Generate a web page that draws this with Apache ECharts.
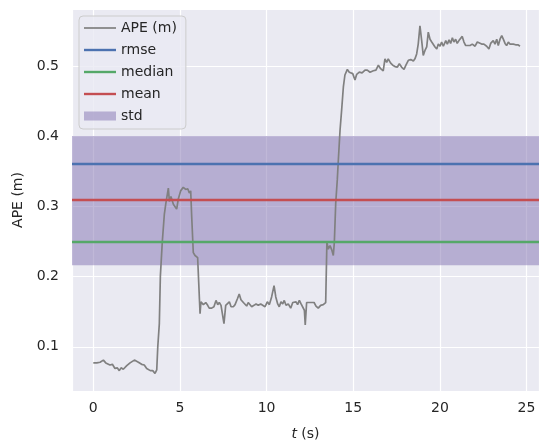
<!DOCTYPE html>
<html>
<head>
<meta charset="utf-8">
<script src="https://cdn.jsdelivr.net/npm/echarts@6/dist/echarts.min.js"></script>
<style>
  html, body { margin: 0; padding: 0; background: #fff; }
  #chart { width: 539px; height: 446px; }
</style>
</head>
<body>
<div id="chart"></div>
<script>
// APE over time
const time = [
  0.00, 0.20, 0.39, 0.58, 0.72, 0.83, 0.96, 1.10, 1.25, 1.38, 1.50, 1.60, 1.73, 1.93, 2.12, 2.37, 2.60, 2.79, 2.94, 3.08,
  3.17, 3.29, 3.43, 3.56, 3.66, 3.72, 3.81, 3.87, 3.98, 4.10, 4.18, 4.33, 4.39, 4.48, 4.62, 4.71, 4.81, 4.90, 5.04, 5.19,
  5.33, 5.45, 5.54, 5.62, 5.68, 5.77, 5.87, 6.02, 6.10, 6.16, 6.21, 6.35, 6.49, 6.60, 6.69, 6.83, 6.96, 7.08, 7.18, 7.27,
  7.37, 7.47, 7.54, 7.64, 7.73, 7.85, 7.95, 8.08, 8.18, 8.31, 8.42, 8.52, 8.66, 8.75, 8.85, 8.94, 9.04, 9.14, 9.27, 9.39,
  9.52, 9.66, 9.77, 9.91, 10.04, 10.16, 10.29, 10.43, 10.53, 10.64, 10.73, 10.83, 10.93, 11.02, 11.12, 11.25, 11.39, 11.51, 11.60, 11.70,
  11.79, 11.89, 11.99, 12.08, 12.18, 12.23, 12.31, 12.41, 12.50, 12.60, 12.74, 12.85, 12.98, 13.12, 13.27, 13.41, 13.47, 13.48, 13.56, 13.66,
  13.76, 13.85, 13.91, 13.99, 14.08, 14.14, 14.24, 14.33, 14.43, 14.52, 14.66, 14.77, 14.87, 14.97, 15.10, 15.20, 15.35, 15.51, 15.68, 15.81,
  15.97, 16.16, 16.31, 16.45, 16.58, 16.73, 16.83, 16.93, 17.02, 17.16, 17.28, 17.41, 17.54, 17.66, 17.80, 17.93, 18.04, 18.18, 18.32, 18.47,
  18.56, 18.66, 18.75, 18.85, 18.95, 19.04, 19.14, 19.24, 19.33, 19.43, 19.53, 19.62, 19.72, 19.82, 19.91, 20.01, 20.10, 20.20, 20.34, 20.43,
  20.53, 20.62, 20.72, 20.81, 20.91, 21.00, 21.10, 21.20, 21.29, 21.39, 21.49, 21.58, 21.74, 21.87, 22.03, 22.16, 22.27, 22.41, 22.54, 22.70,
  22.83, 22.93, 23.08, 23.18, 23.28, 23.37, 23.47, 23.57, 23.66, 23.76, 23.85, 23.95, 24.04, 24.14, 24.24, 24.37, 24.52, 24.62
];
const ape = [
  0.077, 0.077, 0.078, 0.081, 0.077, 0.079, 0.074, 0.075, 0.069, 0.070, 0.066, 0.070, 0.068, 0.073, 0.077, 0.081, 0.078, 0.075, 0.074, 0.069,
  0.070, 0.066, 0.066, 0.062, 0.067, 0.100, 0.133, 0.201, 0.249, 0.289, 0.303, 0.326, 0.307, 0.314, 0.303, 0.305, 0.296, 0.310, 0.322, 0.327,
  0.324, 0.325, 0.319, 0.322, 0.284, 0.234, 0.230, 0.227, 0.225, 0.147, 0.164, 0.160, 0.163, 0.159, 0.155, 0.155, 0.157, 0.166, 0.160, 0.163,
  0.159, 0.161, 0.133, 0.159, 0.161, 0.164, 0.157, 0.157, 0.160, 0.168, 0.175, 0.167, 0.163, 0.164, 0.158, 0.163, 0.161, 0.157, 0.159, 0.161,
  0.159, 0.161, 0.161, 0.157, 0.164, 0.160, 0.171, 0.187, 0.171, 0.161, 0.157, 0.164, 0.161, 0.166, 0.159, 0.161, 0.155, 0.163, 0.161, 0.164,
  0.160, 0.166, 0.161, 0.159, 0.152, 0.131, 0.163, 0.161, 0.163, 0.161, 0.163, 0.158, 0.155, 0.159, 0.160, 0.163, 0.164, 0.249, 0.239, 0.244,
  0.238, 0.230, 0.249, 0.305, 0.338, 0.366, 0.409, 0.437, 0.470, 0.487, 0.495, 0.491, 0.491, 0.489, 0.480, 0.488, 0.491, 0.490, 0.494, 0.494,
  0.491, 0.493, 0.494, 0.501, 0.496, 0.493, 0.510, 0.505, 0.510, 0.504, 0.501, 0.499, 0.498, 0.503, 0.498, 0.495, 0.501, 0.508, 0.509, 0.507,
  0.510, 0.517, 0.531, 0.557, 0.536, 0.515, 0.522, 0.527, 0.548, 0.538, 0.534, 0.536, 0.527, 0.524, 0.531, 0.528, 0.534, 0.528, 0.536, 0.531,
  0.537, 0.532, 0.540, 0.534, 0.538, 0.532, 0.536, 0.535, 0.542, 0.534, 0.529, 0.531, 0.529, 0.531, 0.528, 0.534, 0.535, 0.531, 0.531, 0.528,
  0.524, 0.532, 0.536, 0.531, 0.538, 0.529, 0.538, 0.543, 0.538, 0.532, 0.529, 0.534, 0.531, 0.532, 0.531, 0.530, 0.530, 0.528
];

// statistics
const rmse = 0.360;
const median = 0.249;
const mean = 0.308;
const std = 0.092;

const textColor = '#262626';
const fontFamily = 'DejaVu Sans';

// thin line icons for the legend (the M points pin the 32x9 box)
const thinLine = 'path://M0,0 M32,9 M0,3.65 L32,3.65 L32,5.35 L0,5.35 Z';
const thickLine = 'path://M0,0 M32,9 M0,3.3 L32,3.3 L32,5.7 L0,5.7 Z';

const chart = echarts.init(document.getElementById('chart'), null, { renderer: 'canvas' });

const apeData = time.map((t, i) => [t, ape[i]]);

function statLine(name, value, color) {
  return {
    name: name,
    type: 'line',
    data: [],
    z: 4,
    symbol: 'none',
    color: color,
    lineStyle: { color: color, width: 2.4 },
    markLine: {
      silent: true, symbol: 'none', label: { show: false },
      lineStyle: { color: color, width: 2.4, type: 'solid' },
      data: [{ yAxis: value }]
    }
  };
}

const option = {
  animation: false,
  textStyle: { fontFamily: fontFamily },
  grid: {
    left: 72, right: 0, top: 9, bottom: 53,
    show: true, backgroundColor: '#EAEAF2', borderWidth: 0
  },
  legend: {
    left: 79, top: 16,
    orient: 'vertical',
    itemWidth: 32, itemHeight: 9,
    itemGap: 6,
    itemTextGap: 12,
    padding: [4, 9, 5, 5],
    backgroundColor: 'rgba(234,234,242,0.8)',
    borderColor: '#CCCCCC',
    borderWidth: 1,
    borderRadius: 4,
    textStyle: { color: textColor, fontSize: 14, lineHeight: 16, fontFamily: fontFamily },
    data: [
      { name: 'APE (m)', icon: thinLine },
      { name: 'rmse', icon: thickLine },
      { name: 'median', icon: thickLine },
      { name: 'mean', icon: thickLine },
      { name: 'std', icon: 'rect' }
    ]
  },
  xAxis: {
    type: 'value',
    min: -1.23, max: 25.72,
    name: '{i|t} (s)',
    nameLocation: 'middle',
    nameGap: 36,
    nameTextStyle: {
      color: textColor, fontSize: 14, fontFamily: fontFamily,
      rich: { i: { fontStyle: 'italic', fontSize: 14, color: textColor, fontFamily: fontFamily } }
    },
    axisLine: { show: false },
    axisTick: { show: false },
    axisLabel: { color: textColor, fontSize: 14, margin: 10, showMinLabel: false, showMaxLabel: false },
    splitLine: { show: true, lineStyle: { color: '#FFFFFF', width: 1.2 } }
  },
  yAxis: {
    type: 'value',
    min: 0.037, max: 0.581,
    name: 'APE (m)',
    nameLocation: 'middle',
    nameGap: 41,
    nameTextStyle: { color: textColor, fontSize: 14, fontFamily: fontFamily },
    axisLine: { show: false },
    axisTick: { show: false },
    axisLabel: { color: textColor, fontSize: 14, margin: 13, showMinLabel: false, showMaxLabel: false },
    splitLine: { show: true, lineStyle: { color: '#FFFFFF', width: 1.2 } }
  },
  series: [
    {
      name: 'std',
      type: 'line',
      data: [],
      z: 1,
      color: 'rgba(129,114,178,0.5)',
      markArea: {
        silent: true,
        itemStyle: { color: 'rgba(129,114,178,0.5)' },
        data: [[{ yAxis: mean - std }, { yAxis: mean + std }]]
      }
    },
    {
      name: 'APE (m)',
      type: 'line',
      data: apeData,
      z: 3,
      showSymbol: false,
      symbol: 'none',
      color: '#808080',
      lineStyle: { color: '#808080', width: 1.7 }
    },
    statLine('rmse', rmse, '#4C72B0'),
    statLine('median', median, '#55A868'),
    statLine('mean', mean, '#C44E52')
  ]
};

chart.setOption(option);
</script>
</body>
</html>
